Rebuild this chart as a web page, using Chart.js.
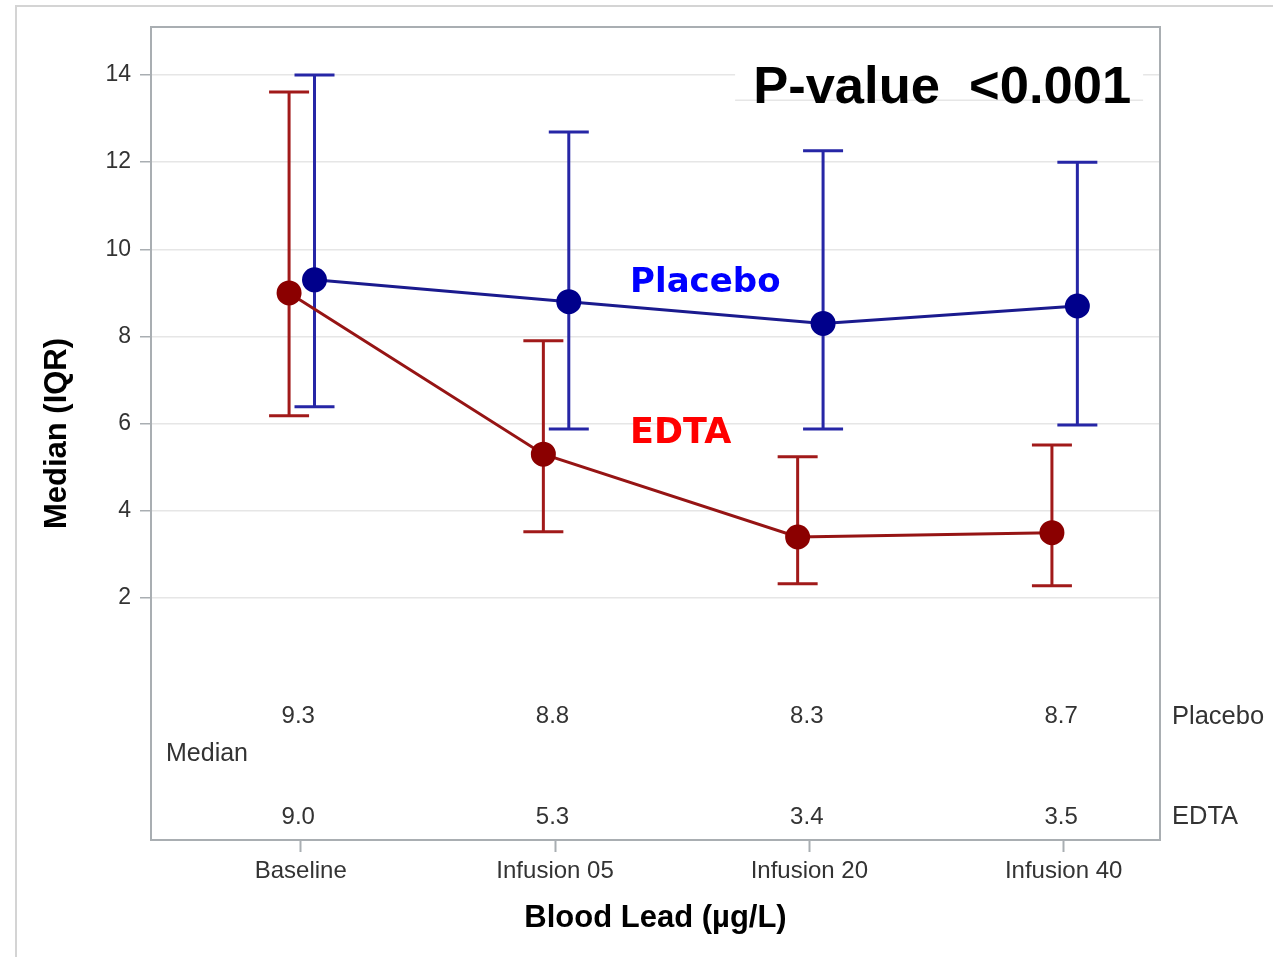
<!DOCTYPE html>
<html>
<head>
<meta charset="utf-8">
<script src="https://cdn.jsdelivr.net/npm/chart.js@4.4.0/dist/chart.umd.min.js"></script>
<style>
  html, body { margin: 0; padding: 0; background: #ffffff; }
  canvas { display: block; }
</style>
</head>
<body>
<canvas id="c" width="1273" height="957"></canvas>
<script>
// Blood lead by visit: median with interquartile range
const visits = ['Baseline', 'Infusion 05', 'Infusion 20', 'Infusion 40'];
const placeboMedian = [9.3, 8.8, 8.3, 8.7];
const placeboQ1 = [6.39, 5.88, 5.88, 5.97];
const placeboQ3 = [14.0, 12.69, 12.26, 12.0];
const edtaMedian = [9.0, 5.3, 3.4, 3.5];
const edtaQ1 = [6.18, 3.52, 2.33, 2.28];
const edtaQ3 = [13.61, 7.90, 5.24, 5.51];
const yTickValues = [2, 4, 6, 8, 10, 12, 14];
const groupNames = ['Placebo', 'EDTA'];
const pValueText = 'P-value  <0.001';

const REG = 'Liberation Sans, Arial, sans-serif';
const TEXT = '#333333';

// whiskers drawn under the markers, frame on top of the gridlines
const errorBars = {
  id: 'errorBars',
  beforeDatasetsDraw(chart) {
    const { ctx, chartArea: a, scales: { x, y } } = chart;
    ctx.save();
    ctx.strokeStyle = '#a9aeb2';
    ctx.lineWidth = 2;
    ctx.strokeRect(a.left, a.top, a.right - a.left, a.bottom - a.top);
    ctx.lineCap = 'butt';
    chart.data.datasets.forEach(ds => {
      ctx.strokeStyle = ds.whiskerColor;
      ctx.lineWidth = 3;
      ds.q1.forEach((lo, i) => {
        const px = x.getPixelForValue(i + 1 + ds.shift);
        const top = y.getPixelForValue(ds.q3[i]);
        const bot = y.getPixelForValue(lo);
        ctx.beginPath();
        ctx.moveTo(px, top); ctx.lineTo(px, bot);
        ctx.moveTo(px - 20, top); ctx.lineTo(px + 20, top);
        ctx.moveTo(px - 20, bot); ctx.lineTo(px + 20, bot);
        ctx.stroke();
      });
    });
    ctx.restore();
  }
};

// outer border, median table, group labels and p-value note
const annotations = {
  id: 'annotations',
  beforeDraw(chart) {
    const { ctx } = chart;
    ctx.save();
    ctx.fillStyle = '#ffffff';
    ctx.fillRect(0, 0, chart.width, chart.height);
    ctx.strokeStyle = '#d4d4d4';
    ctx.lineWidth = 2;
    ctx.strokeRect(16, 6, chart.width + 20, chart.height + 20);
    ctx.restore();
  },
  afterDraw(chart) {
    const { ctx, chartArea: a, scales: { x, y } } = chart;
    ctx.save();
    // median table inside the lower part of the plot
    ctx.fillStyle = TEXT;
    ctx.font = '24px ' + REG;
    ctx.textAlign = 'center';
    ctx.textBaseline = 'middle';
    const rowP = y.getPixelForValue(-0.72);
    const rowE = y.getPixelForValue(-3.02);
    placeboMedian.forEach((v, i) => ctx.fillText(v.toFixed(1), x.getPixelForValue(i + 0.99), rowP));
    edtaMedian.forEach((v, i) => ctx.fillText(v.toFixed(1), x.getPixelForValue(i + 0.99), rowE));
    ctx.textAlign = 'left';
    ctx.font = '25px ' + REG;
    ctx.fillText('Median', a.left + 15, y.getPixelForValue(-1.58));
    ctx.font = '25.5px ' + REG;
    ctx.fillText(groupNames[0], a.right + 12, rowP);
    ctx.fillText(groupNames[1], a.right + 12, rowE);

    // group labels
    ctx.textBaseline = 'alphabetic';
    ctx.font = 'bold 34px DejaVu Sans';
    ctx.fillStyle = '#0000ff';
    ctx.fillText(groupNames[0], x.getPixelForValue(2.295), y.getPixelForValue(9.02));
    ctx.fillStyle = '#ff0000';
    ctx.font = 'bold 35px DejaVu Sans';
    ctx.fillText(groupNames[1], x.getPixelForValue(2.295), y.getPixelForValue(5.56));

    // p-value note on a white box
    const bx = x.getPixelForValue(2.708), bw = 408;
    const by = y.getPixelForValue(14.6), bb = y.getPixelForValue(13.42);
    ctx.fillStyle = '#ffffff';
    ctx.fillRect(bx, by, bw, bb - by);
    ctx.strokeStyle = '#e6e6e6';
    ctx.lineWidth = 1.5;
    ctx.beginPath(); ctx.moveTo(bx, bb); ctx.lineTo(bx + bw, bb); ctx.stroke();
    ctx.fillStyle = '#000000';
    ctx.font = 'bold 52.5px ' + REG;
    ctx.fillText(pValueText, x.getPixelForValue(2.779), y.getPixelForValue(13.36));
    ctx.restore();
  }
};

const toPoints = (vals, shift) => vals.map((v, i) => ({ x: i + 1 + shift, y: v }));

new Chart(document.getElementById('c'), {
  type: 'line',
  data: {
    datasets: [
      {
        label: groupNames[1],
        data: toPoints(edtaMedian, -0.046),
        shift: -0.046, q1: edtaQ1, q3: edtaQ3,
        whiskerColor: '#a11a1a',
        borderColor: '#961414',
        backgroundColor: '#8b0000',
        pointBackgroundColor: '#8b0000',
        pointBorderColor: '#8b0000',
        borderWidth: 3,
        pointRadius: 11,
        tension: 0
      },
      {
        label: groupNames[0],
        data: toPoints(placeboMedian, 0.054),
        shift: 0.054, q1: placeboQ1, q3: placeboQ3,
        whiskerColor: '#2626a6',
        borderColor: '#1a1a8e',
        backgroundColor: '#00008b',
        pointBackgroundColor: '#00008b',
        pointBorderColor: '#00008b',
        borderWidth: 3,
        pointRadius: 11,
        tension: 0
      }
    ]
  },
  options: {
    responsive: false,
    animation: false,
    events: [],
    layout: { padding: { left: 0, top: 27, right: 113, bottom: 0 } },
    plugins: { legend: { display: false }, tooltip: { enabled: false } },
    scales: {
      x: {
        type: 'linear',
        min: 0.411,
        max: 4.379,
        afterBuildTicks: s => { s.ticks = visits.map((_, i) => ({ value: i + 1 })); },
        afterFit: s => { s.height = 117; },
        ticks: {
          callback: v => visits[v - 1],
          font: { family: REG, size: 24 },
          color: TEXT,
          padding: 5,
          maxRotation: 0,
          autoSkip: false
        },
        grid: { drawOnChartArea: false, tickLength: 12, tickColor: '#a9aeb2', tickWidth: 2 },
        border: { display: false },
        title: {
          display: true,
          text: 'Blood Lead (µg/L)',
          font: { family: REG, size: 31, weight: 'bold' },
          color: '#000000',
          padding: { top: 0, bottom: 20 }
        }
      },
      y: {
        min: -3.55,
        max: 15.1,
        afterBuildTicks: s => { s.ticks = yTickValues.map(v => ({ value: v })); },
        afterFit: s => { s.width = 151; },
        ticks: {
          font: { family: REG, size: 23 },
          color: TEXT,
          padding: 9
        },
        grid: { color: '#e6e6e6', lineWidth: 1.5, tickLength: 11, tickColor: '#a9aeb2' },
        border: { display: false },
        title: {
          display: true,
          text: 'Median (IQR)',
          font: { family: REG, size: 31, weight: 'bold' },
          color: '#000000',
          padding: { top: 39, bottom: 0 }
        }
      }
    }
  },
  plugins: [annotations, errorBars]
});
</script>
</body>
</html>
